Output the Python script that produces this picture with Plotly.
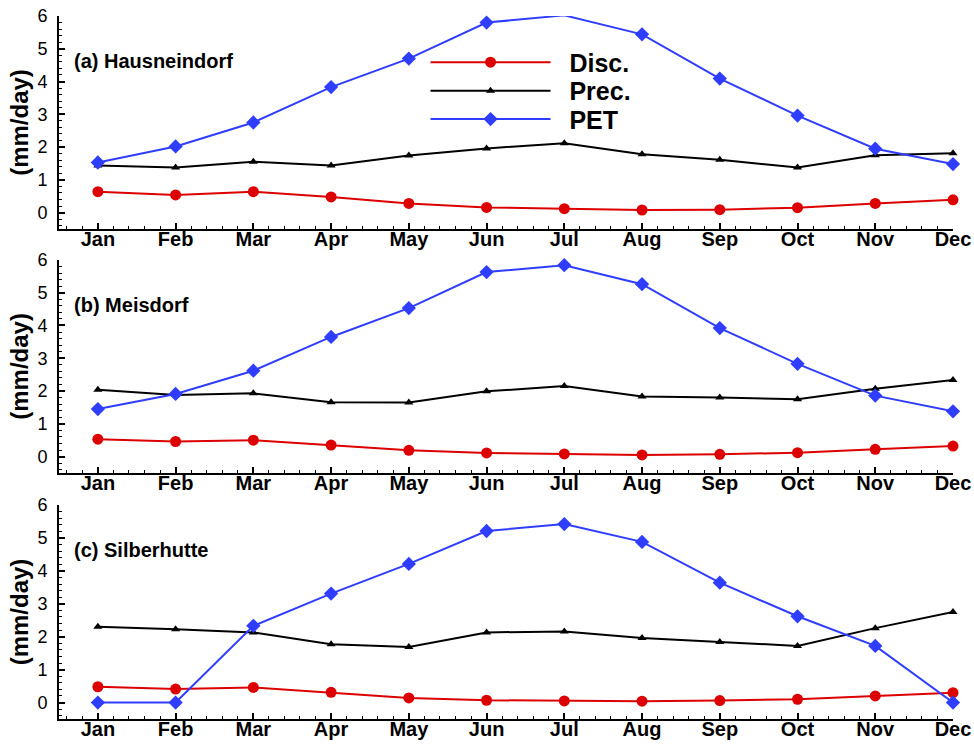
import plotly.graph_objects as go
from plotly.subplots import make_subplots

# Monthly means (mm/day) for three gauging stations
months = ["Jan", "Feb", "Mar", "Apr", "May", "Jun", "Jul", "Aug", "Sep", "Oct", "Nov", "Dec"]
month_idx = list(range(1, 13))

stations = ["(a) Hausneindorf", "(b) Meisdorf", "(c) Silberhutte"]
series_names = ["Disc.", "Prec.", "PET"]

disc_hausneindorf = [0.64, 0.54, 0.64, 0.48, 0.28, 0.16, 0.12, 0.08, 0.09, 0.15, 0.28, 0.39]
prec_hausneindorf = [1.44, 1.38, 1.55, 1.44, 1.74, 1.96, 2.12, 1.78, 1.61, 1.38, 1.75, 1.81]
pet_hausneindorf = [1.53, 2.02, 2.75, 3.83, 4.70, 5.80, 6.02, 5.44, 4.09, 2.96, 1.95, 1.48]

disc_meisdorf = [0.53, 0.46, 0.50, 0.35, 0.19, 0.11, 0.08, 0.05, 0.07, 0.12, 0.22, 0.32]
prec_meisdorf = [2.04, 1.88, 1.93, 1.66, 1.65, 1.99, 2.15, 1.83, 1.80, 1.75, 2.07, 2.34]
pet_meisdorf = [1.45, 1.91, 2.62, 3.65, 4.53, 5.63, 5.84, 5.26, 3.92, 2.83, 1.86, 1.38]

disc_silberhutte = [0.48, 0.41, 0.46, 0.31, 0.14, 0.07, 0.05, 0.04, 0.06, 0.10, 0.20, 0.30]
prec_silberhutte = [2.30, 2.23, 2.13, 1.77, 1.69, 2.13, 2.16, 1.96, 1.84, 1.72, 2.26, 2.75]
pet_silberhutte = [0.00, 0.00, 2.33, 3.31, 4.21, 5.21, 5.42, 4.88, 3.64, 2.62, 1.72, 0.00]

disc_all = [disc_hausneindorf, disc_meisdorf, disc_silberhutte]
prec_all = [prec_hausneindorf, prec_meisdorf, prec_silberhutte]
pet_all = [pet_hausneindorf, pet_meisdorf, pet_silberhutte]

y_ticks = [0, 1, 2, 3, 4, 5, 6]

RED = "#dd0000"
BLACK = "#000000"
BLUE = "#2f3dff"
FONT = "Liberation Sans, Arial, sans-serif"
NBSP = "\u00a0"

styles = [
    dict(color=RED, symbol="circle", size=11),
    dict(color=BLACK, symbol="triangle-up", size=8),
    dict(color=BLUE, symbol="diamond", size=11),
]
legend_ids = ["legend", "legend2", "legend3"]

fig = make_subplots(rows=3, cols=1, shared_xaxes=False, vertical_spacing=0.05)

for i in range(3):
    row = i + 1
    for k, values in enumerate([disc_all[i], prec_all[i], pet_all[i]]):
        st = styles[k]
        fig.add_trace(go.Scatter(
            x=month_idx, y=values, name=NBSP * 2 + series_names[k], mode="lines+markers",
            line=dict(color=st["color"], width=2),
            marker=dict(symbol=st["symbol"], size=st["size"], color=st["color"]),
            showlegend=(i == 0), legend=legend_ids[k], cliponaxis=False), row=row, col=1)

domains = [[0.697, 1.0], [0.350, 0.653], [0.0, 0.3044]]

for i in range(3):
    row = i + 1
    fig.update_xaxes(
        row=row, col=1, range=[0.5, 12], tickvals=month_idx, ticktext=months,
        showline=True, linecolor="black", linewidth=2, ticks="inside", ticklen=6,
        tickwidth=1.5, tickcolor="black", showgrid=False, zeroline=False,
        tickfont=dict(family=FONT, size=20, color="black", weight="bold"),
        ticklabelstandoff=-9,
        minor=dict(ticks="inside", dtick=0.2, tick0=0, ticklen=3, tickcolor="black", tickwidth=1),
        automargin=False,
    )
    fig.update_yaxes(
        row=row, col=1, range=[-0.5, 6], tickvals=y_ticks, domain=domains[i],
        showline=True, linecolor="black", linewidth=2, ticks="inside", ticklen=6,
        tickwidth=1.5, tickcolor="black", showgrid=False, zeroline=False,
        tickfont=dict(family=FONT, size=18, color="black"), ticklabelstandoff=6,
        minor=dict(ticks="inside", dtick=0.2, tick0=0, ticklen=3, tickcolor="black", tickwidth=1),
        title=dict(text="(mm/day)", font=dict(family=FONT, size=24, color="black", weight="bold"),
                   standoff=2),
        automargin=False,
    )
    yref = "y domain" if i == 0 else f"y{row} domain"
    xref = "x domain" if i == 0 else f"x{row} domain"
    fig.add_annotation(
        text=stations[i], x=0.015, y=0.79, xref=xref, yref=yref,
        xanchor="left", yanchor="middle", showarrow=False,
        font=dict(family=FONT, size=20, color="black", weight="bold"),
    )

legend_rows = [0.934, 0.8934, 0.853]
legend_common = dict(
    x=0.41, xref="paper", yref="paper", xanchor="left", yanchor="middle",
    bgcolor="rgba(0,0,0,0)", itemwidth=120,
    font=dict(family=FONT, size=25, color="black", weight="bold"),
)

fig.update_layout(
    width=974, height=744,
    margin=dict(l=59, r=21, t=16, b=25),
    plot_bgcolor="white", paper_bgcolor="white",
    legend=dict(y=legend_rows[0], **legend_common),
    legend2=dict(y=legend_rows[1], **legend_common),
    legend3=dict(y=legend_rows[2], **legend_common),
)

fig.write_html("out.html")
